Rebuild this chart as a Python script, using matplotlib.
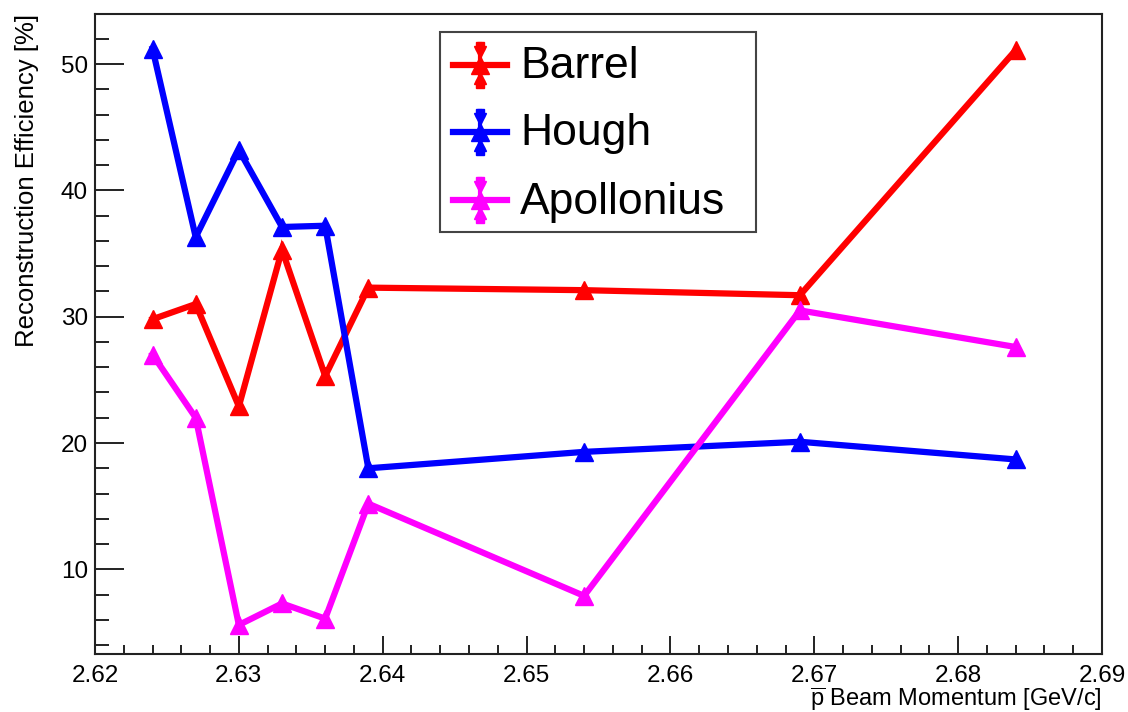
import matplotlib
matplotlib.use("Agg")
import matplotlib.pyplot as plt
from matplotlib.lines import Line2D
from matplotlib.patches import Rectangle
from matplotlib.ticker import MultipleLocator, FormatStrFormatter

plt.rcParams['font.family'] = ['Liberation Sans', 'DejaVu Sans']
plt.rcParams['mathtext.fontset'] = 'custom'
plt.rcParams['mathtext.rm'] = 'Liberation Sans'
plt.rcParams['mathtext.it'] = 'Liberation Sans:italic'

# Beam momentum scan points [GeV/c]
momentum = [2.624, 2.627, 2.630, 2.633, 2.636, 2.639, 2.654, 2.669, 2.684]

# Reconstruction efficiency per tracking algorithm [%]
barrel = [29.8, 31.0, 22.9, 35.3, 25.3, 32.3, 32.1, 31.7, 51.1]
hough = [51.2, 36.3, 43.2, 37.1, 37.2, 18.0, 19.3, 20.1, 18.7]
apollonius = [27.0, 22.0, 5.6, 7.3, 6.1, 15.2, 7.9, 30.5, 27.6]

series_names = ["Barrel", "Hough", "Apollonius"]
series_colors = ["#ff0000", "#0000ff", "#ff00ff"]

W, H = 1128, 712
fig = plt.figure(figsize=(W / 100, H / 100), dpi=100)
ax = fig.add_axes([95 / W, 1 - 654 / H, (1102 - 95) / W, (654 - 13.5) / H])

for vals, color in zip([barrel, hough, apollonius], series_colors):
    ax.plot(momentum, vals, color=color, lw=4.5, marker='^', ms=13.5,
            mec=color, mfc=color, solid_joinstyle='miter')

ax.set_xlim(2.62, 2.69)
ax.set_ylim(3.3, 54)

ax.xaxis.set_major_locator(MultipleLocator(0.01))
ax.xaxis.set_minor_locator(MultipleLocator(0.002))
ax.yaxis.set_major_locator(MultipleLocator(10))
ax.yaxis.set_minor_locator(MultipleLocator(2))
ax.xaxis.set_major_formatter(FormatStrFormatter('%.2f'))

ax.tick_params(axis='both', which='both', direction='in', color='#222222',
               width=1.4, labelsize=17.5, top=False, right=False)
ax.tick_params(axis='x', which='major', length=13, pad=8)
ax.tick_params(axis='x', which='minor', length=6.5)
ax.tick_params(axis='y', which='major', length=21, pad=5)
ax.tick_params(axis='y', which='minor', length=10)

for sp in ax.spines.values():
    sp.set_linewidth(1.5)
    sp.set_color('#222222')

ax.set_xlabel(r'$\overline{\mathrm{p}}$ Beam Momentum [GeV/c]', fontsize=17,
              ha='right', va='top')
ax.xaxis.set_label_coords(1.0, -0.049)
ax.set_ylabel('Reconstruction Efficiency [%]', fontsize=18.5, ha='right',
              va='center', rotation_mode='anchor')
ax.yaxis.set_label_coords(-0.068, 1.0)


# Legend box drawn in figure pixel coordinates
def fx(px):
    return px / W


def fy(py):
    return 1 - py / H


fig.add_artist(Rectangle((fx(440), fy(232)), fx(756) - fx(440), fy(32) - fy(232),
                         transform=fig.transFigure, fill=True, fc='white',
                         ec='#444444', lw=1.5, zorder=5))
centers = [65, 132, 200]
for name, color, cy in zip(series_names, series_colors, centers):
    fig.add_artist(Line2D([fx(453), fx(507)], [fy(cy), fy(cy)], color=color,
                          lw=4.5, transform=fig.transFigure, zorder=6))
    fig.add_artist(Line2D([fx(480), fx(480)], [fy(cy - 21), fy(cy + 21)],
                          color=color, lw=3, transform=fig.transFigure, zorder=6))
    fig.add_artist(Line2D([fx(480)], [fy(cy)], marker='^', ms=13.5, color=color,
                          lw=0, transform=fig.transFigure, zorder=7))
    for off, mk, ms in [(-19, 's', 6), (-13, 'v', 8), (13, '^', 8), (19, 's', 6)]:
        fig.add_artist(Line2D([fx(480)], [fy(cy + off)], marker=mk, ms=ms,
                              color=color, lw=0, transform=fig.transFigure,
                              zorder=7))
    fig.text(fx(520), fy(cy + 2), name, fontsize=32, ha='left', va='center',
             zorder=8)

fig.savefig('out.png', dpi=100)
